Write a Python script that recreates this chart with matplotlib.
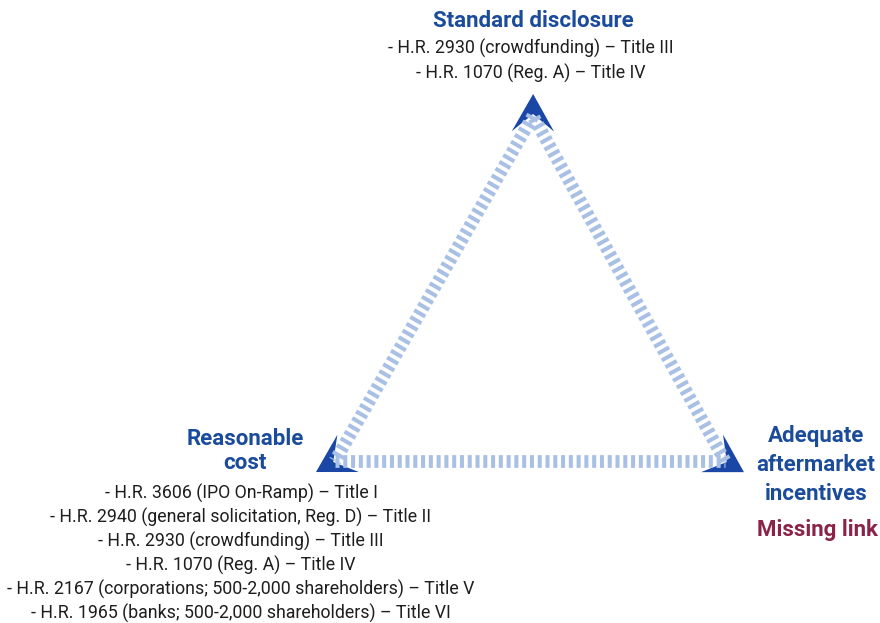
import numpy as np
import matplotlib
matplotlib.use("Agg")
import matplotlib.pyplot as plt
from matplotlib.patches import Polygon

# ---- data ----
node_names = ["Standard disclosure", "Reasonable cost", "Adequate aftermarket incentives"]
node_x = [533, 335, 725]
node_y = [116, 461, 461]

top_title = "Standard disclosure"
top_items = ["- H.R. 2930 (crowdfunding) – Title III",
             "- H.R. 1070 (Reg. A) – Title IV"]
left_title = ["Reasonable", "cost"]
left_items = ["- H.R. 3606 (IPO On-Ramp) – Title I",
              "- H.R. 2940 (general solicitation, Reg. D) – Title II",
              "- H.R. 2930 (crowdfunding) – Title III",
              "- H.R. 1070 (Reg. A) – Title IV",
              "- H.R. 2167 (corporations; 500-2,000 shareholders) – Title V",
              "- H.R. 1965 (banks; 500-2,000 shareholders) – Title VI"]
right_title = ["Adequate", "aftermarket", "incentives"]
right_note = "Missing link"

# ---- style ----
FONT = ['Roboto', 'DejaVu Sans']
BLUE_TXT = '#1b4b9b'
RED_TXT = '#8b2248'
ARROW = '#1a47a6'
LINE = '#a9c0e5'
BODY = 12.8
HEAD = 16

plt.rcParams['lines.scale_dashes'] = False

fig = plt.figure(figsize=(8.8, 6.23), dpi=100)
ax = fig.add_axes([0, 0, 1, 1])
ax.set_xlim(0, 880)
ax.set_ylim(623, 0)
ax.axis('off')

P = np.array(list(zip(node_x, node_y)), dtype=float)

# chevrons at each corner (under the lines)
for i in range(3):
    V = P[i]
    A = P[(i + 1) % 3]
    B = P[(i + 2) % 3]
    ea = (A - V) / np.linalg.norm(A - V)
    eb = (B - V) / np.linalg.norm(B - V)
    u = -(ea + eb)
    u /= np.linalg.norm(u)
    tip = V + 22 * u
    w1 = tip + 43 * ea
    w2 = tip + 43 * eb
    notch = V + 2 * u
    ax.add_patch(Polygon([tip, w1, notch, w2], closed=True, fc=ARROW, ec='none', zorder=2))

# dashed triangle edges
for i in range(3):
    a = P[i]
    b = P[(i + 1) % 3]
    ax.plot([a[0], b[0]], [a[1], b[1]], color=LINE, lw=9.2,
            dashes=(2.9, 2.7), dash_capstyle='butt', zorder=3)

# texts
ax.text(533, 21, top_title, ha='center', va='center', fontsize=HEAD, fontweight='bold',
        color=BLUE_TXT, family=FONT)
for k, s in enumerate(top_items):
    ax.text(531, 48 + 25 * k, s, ha='center', va='center', fontsize=BODY,
            color='#1e1e1e', family=FONT)

for k, s in enumerate(left_title):
    ax.text(245, 439 + 24 * k, s, ha='center', va='center', fontsize=HEAD, fontweight='bold',
            color=BLUE_TXT, family=FONT)
for k, s in enumerate(left_items):
    ax.text(241, 493 + 24 * k, s, ha='center', va='center', fontsize=BODY,
            color='#1e1e1e', family=FONT)

for k, s in enumerate(right_title):
    ax.text(816, 436 + 29 * k, s, ha='center', va='center', fontsize=HEAD, fontweight='bold',
            color=BLUE_TXT, family=FONT)
ax.text(817, 530, right_note, ha='center', va='center', fontsize=HEAD, fontweight='bold',
        color=RED_TXT, family=FONT)

fig.savefig('out.png', dpi=100, facecolor='white')
